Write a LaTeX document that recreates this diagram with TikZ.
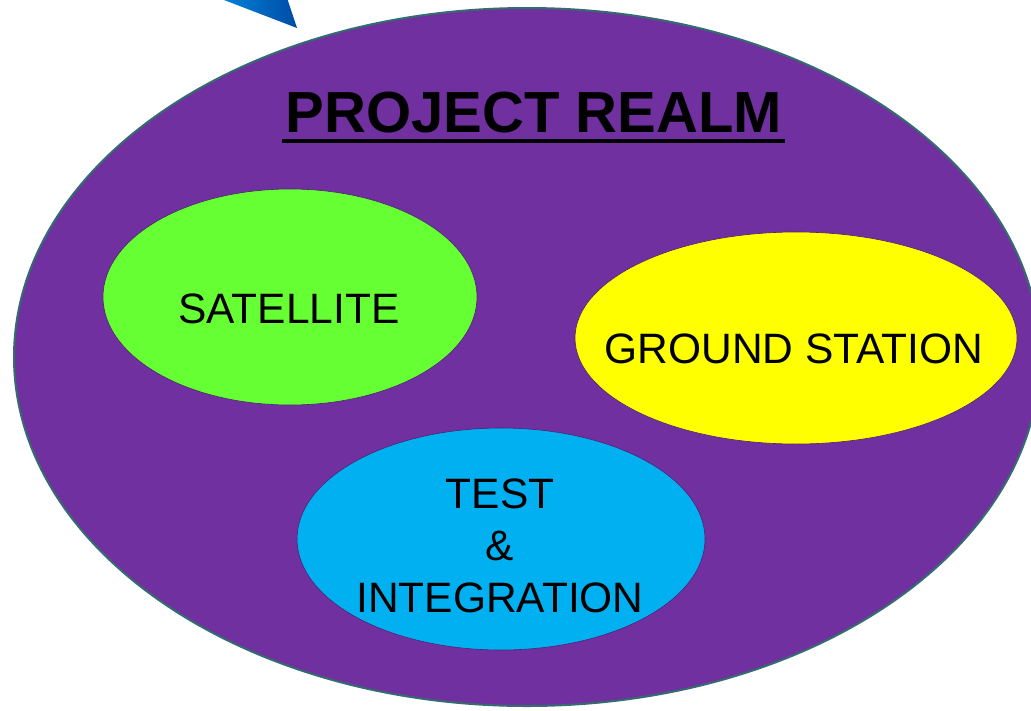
\documentclass[tikz,border=0pt]{standalone}
\usepackage{fontspec}
\setmainfont{Liberation Sans}
\usepackage{tikz}
\usetikzlibrary{shapes.geometric}

\definecolor{realmpurple}{RGB}{112,48,160}
\definecolor{realmedge}{RGB}{52,108,112}
\definecolor{satgreen}{RGB}{102,255,51}
\definecolor{gsyellow}{RGB}{255,255,0}
\definecolor{tiblue}{RGB}{0,176,240}

\begin{document}
\begin{tikzpicture}[x=1pt,y=-1pt,
  blob/.style={ellipse, inner sep=0pt, draw=realmpurple!70!black, line width=0.6pt},
  label/.style={inner sep=0pt, font=\fontsize{42.5}{52}\selectfont}]

\useasboundingbox (0,0) rectangle (1031,710);
\clip (0,0) rectangle (1031,710);

% the realm
\node [ellipse, draw=realmedge, line width=2pt, fill=realmpurple, inner sep=0pt,
       minimum width=1026pt, minimum height=698pt] (realm) at (527,357) {};

% arrow tip coming in from the top
\shade [left color={rgb,255:red,0;green,140;blue,225}, right color={rgb,255:red,0;green,75;blue,165}]
  (211,-5) -- (286,-5) -- (297,28) -- cycle;

\node [inner sep=0pt, anchor=base, font=\fontsize{58}{60}\selectfont\bfseries] (title) at (534,132) {PROJECT REALM};
\draw [line width=4.5pt] (282,141) -- (785,141);

\node [blob, fill=satgreen, minimum width=374pt, minimum height=216pt] (sat) at (290,297) {};
\node [blob, fill=gsyellow, minimum width=442pt, minimum height=212pt] (gs) at (796,338) {};
\node [blob, fill=tiblue, minimum width=408pt, minimum height=222pt] (ti) at (501,539) {};

\node [label, anchor=base] (satlabel) at (289,323) {SATELLITE};
\node [label, anchor=base] (gslabel) at (794,363) {GROUND STATION};
\node [label, align=center] (tilabel) at (500,546) {TEST\\\&\\INTEGRATION};

\end{tikzpicture}
\end{document}
